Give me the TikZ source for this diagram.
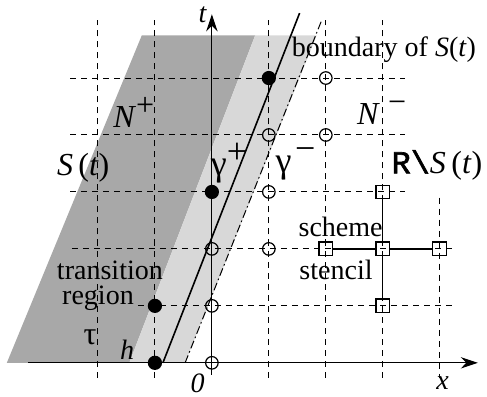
\documentclass[tikz,border=0pt]{standalone}
\usepackage{fontspec}
\setmainfont{Liberation Serif}
\newfontfamily\monobold{Liberation Mono}[FakeBold=2]
\usetikzlibrary{arrows.meta}
\definecolor{inside}{HTML}{A8A8A8}
\definecolor{band}{HTML}{D8D8D8}

\begin{document}
\begin{tikzpicture}[font=\fontsize{14}{16}\selectfont,
 big/.style={font=\fontsize{16}{18}\selectfont},
 grid/.style={dash pattern=on 3pt off 2.5pt,line width=.5pt},
 axis/.style={-{Stealth[length=3mm,width=2mm]},line width=.6pt},
 inpoint/.style={circle,fill=black,inner sep=0pt,minimum size=2.5mm},
 outpoint/.style={circle,draw=black,line width=.6pt,inner sep=0pt,minimum size=2.2mm},
 stencilpt/.style={rectangle,draw=black,line width=.6pt,inner sep=0pt,minimum size=2.4mm}]
\path[use as bounding box] (-3.72,-.6) rectangle (4.83,6.37);
% S(t) and the transition band, both sheared
\fill[inside] (-3.6,0) -- (-1.45,0) -- (.76,5.75) -- (-1.23,5.75) -- cycle;
\fill[band] (-1.45,0) -- (-.47,0) -- (1.84,5.75) -- (.76,5.75) -- cycle;
% grid of mesh lines
\foreach \i in {-2,-1,1,2,3}
  \draw[grid] (\i,-.26) -- (\i,6.02);
\draw[grid] (4,2.9) -- (4,-.26);
\foreach \j in {3,4,5}
  \draw[grid] (-2.49,\j) -- (3.39,\j);
\draw[grid] (-2.46,2) -- (4.23,2);
\draw[grid] (-1.3,1) -- (4.23,1);
% axes
\coordinate (xs) at (-3.23,0);
\coordinate (xe) at (4.67,0);
\coordinate (ts) at (0,-.21);
\coordinate (te) at (0,6.12);
\draw[axis] (xs) -- (xe);
\draw[axis] (ts) -- (te);
% boundary of S(t) and the outer edge of the band
\coordinate (bs) at (-.86,0);
\coordinate (be) at (1.54,6.14);
\coordinate (es) at (-.47,0);
\coordinate (ee) at (1.93,6.02);
\draw[line width=.8pt] (bs) -- (be);
\draw[line width=.5pt,dash pattern=on 4pt off 1.5pt on .8pt off 1.5pt] (es) -- (ee);
% points of N+ and N-
\node[inpoint] (p1) at (-1,0) {};
\node[inpoint] (p2) at (-1,1) {};
\node[inpoint] (p3) at (0,3) {};
\node[inpoint] (p4) at (1,5) {};
\node[outpoint] (m1) at (0,0) {};
\node[outpoint] (m2) at (0,1) {};
\node[outpoint] (m3) at (0,2) {};
\node[outpoint] (m4) at (1,2) {};
\node[outpoint] (m5) at (1,3) {};
\node[outpoint] (m6) at (1,4) {};
\node[outpoint] (m7) at (2,4) {};
\node[outpoint] (m8) at (2,5) {};
% five point stencil
\node[stencilpt] (sc) at (3,2) {};
\node[stencilpt] (sw) at (2,2) {};
\node[stencilpt] (se) at (4,2) {};
\node[stencilpt] (sn) at (3,3) {};
\node[stencilpt] (ss) at (3,1) {};
\draw[line width=.6pt] (sw) -- (sc) -- (se);
\draw[line width=.6pt] (sn) -- (sc) -- (ss);
% labels
\node (tlab) at (-.16,6.11) {\textit{t}};
\node (xlab) at (4.05,-.36) {\textit{x}};
\node (olab) at (-.25,-.36) {\textit{0}};
\node (hlab) at (-1.49,.23) {\textit{h}};
\node[big] (taulab) at (-2.14,.44) {τ};
\node (trans) at (-1.79,1.63) {transition};
\node (region) at (-2.0,1.14) {region};
\node[big] (slab) at (-2.26,3.42) {\textit{S}\,(\textit{t})};
\node[big] (nplus) at (-1.37,4.39) {\textit{N}\raisebox{6pt}{+}};
\node[font=\fontsize{18}{20}\selectfont] (gplus) at (.3,3.5) {γ\raisebox{6pt}{+}};
\node[font=\fontsize{18}{20}\selectfont] (gminus) at (1.47,3.5) {γ\hspace{.1em}\raisebox{6pt}{−}};
\node[big] (nminus) at (2.98,4.39) {\textit{N}\hspace{.25em}\raisebox{6pt}{−}};
\node[big] (rlab) at (3.95,3.47) {{\monobold R\textbackslash}\textit{S}\,(\textit{t})};
\node (blab) at (3.02,5.49) {boundary of \textit{S}(\textit{t})};
\node (scheme) at (2.26,2.39) {scheme};
\node (stencil) at (2.18,1.63) {stencil};
\end{tikzpicture}
\end{document}
